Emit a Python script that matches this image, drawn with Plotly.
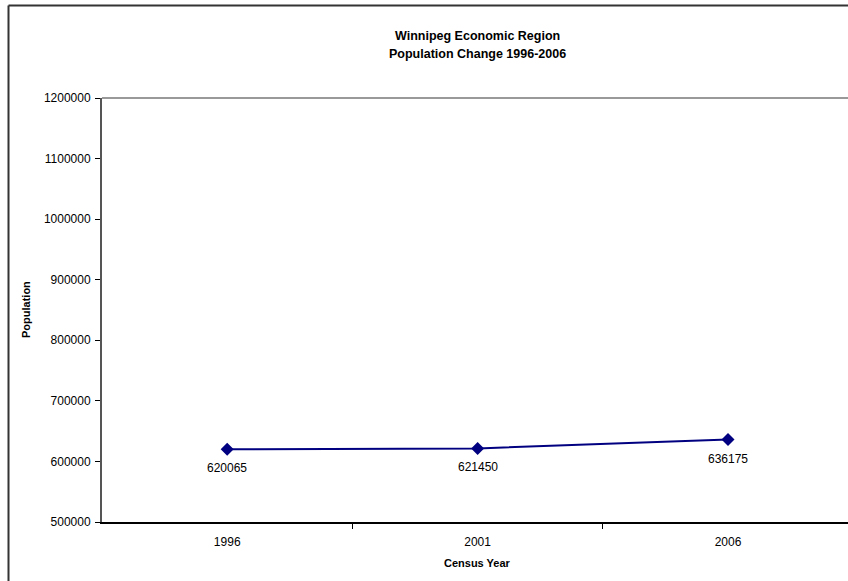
import plotly.graph_objects as go

years = ["1996", "2001", "2006"]
population = [620065, 621450, 636175]
y_ticks = [500000, 600000, 700000, 800000, 900000, 1000000, 1100000, 1200000]

title_lines = ["Winnipeg Economic Region", "Population Change 1996-2006"]
x_title = "Census Year"
y_title = "Population"

W, H = 848, 581
L, T, B, R = 102, 98, 59, 0
plot_w = W - L - R
plot_h = H - T - B
cat_w = 250.4

FONT = "Liberation Sans, Arial, sans-serif"
NAVY = "#000080"

fig = go.Figure()
fig.add_trace(go.Scatter(
    x=list(range(len(years))), y=population,
    mode="lines+markers",
    line=dict(color=NAVY, width=2),
    marker=dict(symbol="diamond", size=10, color=NAVY),
    hoverinfo="skip",
    cliponaxis=False,
))

x_hi = -0.5 + plot_w / cat_w

def px_x(px):
    return (px - L) / plot_w

def px_y(py):
    return (H - B - py) / plot_h

shapes = [
    # top plot border line
    dict(type="line", xref="paper", yref="paper", x0=0, x1=1, y0=1, y1=1,
         line=dict(color="#999999", width=2)),
    # outer chart border (left and top)
    dict(type="line", xref="paper", yref="paper", x0=px_x(8.5), x1=px_x(8.5),
         y0=px_y(H + 5), y1=px_y(5.5), line=dict(color="#333333", width=2)),
    dict(type="line", xref="paper", yref="paper", x0=px_x(8.5), x1=px_x(W + 5),
         y0=px_y(5.5), y1=px_y(5.5), line=dict(color="#333333", width=2)),
]

annotations = [
    dict(text="<b>" + title_lines[0] + "</b>", xref="x", x=1, yref="paper", y=px_y(36),
         showarrow=False, font=dict(family=FONT, size=12.5, color="#000000"), yanchor="middle"),
    dict(text="<b>" + title_lines[1] + "</b>", xref="x", x=1, yref="paper", y=px_y(54),
         showarrow=False, font=dict(family=FONT, size=12.5, color="#000000"), yanchor="middle"),
    dict(text="<b>" + x_title + "</b>", xref="x", x=1, yref="paper", y=px_y(563),
         showarrow=False, font=dict(family=FONT, size=11, color="#000000"), yanchor="middle"),
    dict(text="<b>" + y_title + "</b>", xref="paper", x=px_x(26), yref="paper", y=0.5,
         showarrow=False, textangle=-90, font=dict(family=FONT, size=11, color="#000000"),
         xanchor="center", yanchor="middle"),
]
for i, v in enumerate(population):
    annotations.append(dict(
        text=str(v), xref="x", x=i, yref="y", y=v, yshift=-19,
        showarrow=False, yanchor="middle",
        font=dict(family=FONT, size=12, color="#000000"),
    ))

fig.update_layout(
    width=W, height=H,
    margin=dict(l=L, r=R, t=T, b=B, pad=0),
    paper_bgcolor="white", plot_bgcolor="white",
    showlegend=False,
    font=dict(family=FONT, size=12, color="#000000"),
    shapes=shapes,
    annotations=annotations,
    xaxis=dict(
        type="linear",
        range=[-0.5, x_hi],
        tickmode="array",
        tickvals=[0, 1, 2],
        ticktext=years,
        ticks="", showgrid=False, zeroline=False,
        showline=True, linecolor="#000000", linewidth=2,
        ticklabelstandoff=8,
        tickfont=dict(family=FONT, size=12, color="#000000"),
        minor=dict(tickmode="array", tickvals=[0.5, 1.5], ticks="outside",
                   ticklen=5, tickcolor="#000000", tickwidth=1, showgrid=False),
    ),
    yaxis=dict(
        range=[500000, 1200000],
        tickmode="array", tickvals=y_ticks, ticktext=[str(v) for v in y_ticks],
        ticks="outside", ticklen=5, tickcolor="#000000", tickwidth=1,
        showgrid=False, zeroline=False,
        showline=True, linecolor="#555555", linewidth=2,
        ticklabelstandoff=2,
        tickfont=dict(family=FONT, size=12, color="#000000"),
    ),
)

fig.write_html("out.html", config={"displayModeBar": False},
               post_script="document.body.style.margin='0';document.body.style.overflow='hidden';")
